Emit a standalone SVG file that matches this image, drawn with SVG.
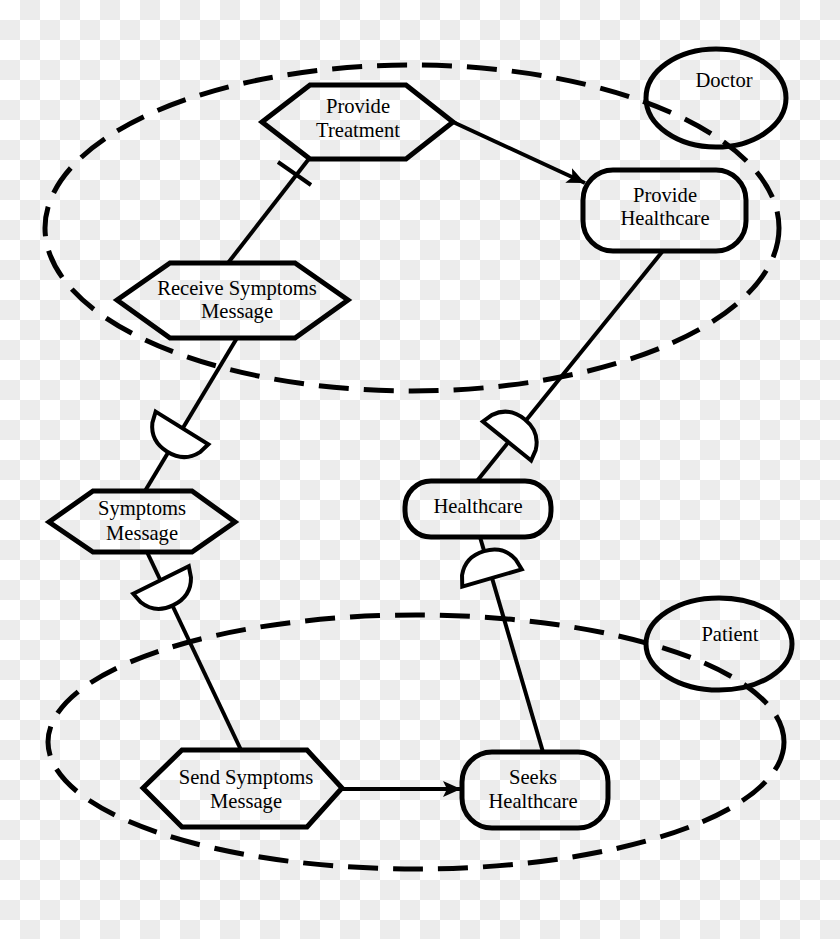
<svg xmlns="http://www.w3.org/2000/svg" width="840" height="939" viewBox="0 0 840 939">
<style>
.node{fill:none;stroke:#000;stroke-width:5;stroke-linejoin:miter}
.lbl{font-family:"Liberation Serif","Times New Roman",serif;font-size:20.6px;fill:#000;text-anchor:middle}
.edge{fill:none;stroke:#000;stroke-width:4}
.dash{fill:none;stroke:#000;stroke-width:5;stroke-dasharray:30 15}
.cup{fill:#fff;stroke:#000;stroke-width:4;stroke-linejoin:miter}
</style>
<defs>
<pattern id="checker" width="40" height="40" patternUnits="userSpaceOnUse">
<rect width="40" height="40" fill="#ffffff"/>
<rect x="20" y="0" width="20" height="20" fill="#ececec"/>
<rect x="0" y="20" width="20" height="20" fill="#ececec"/>
</pattern>
<marker id="arrow" markerUnits="userSpaceOnUse" markerWidth="22" markerHeight="18" refX="18" refY="8" orient="auto">
<path d="M0,0 L18,8 L0,16 L4,8 Z" fill="#000"/>
</marker>
<path id="cupShape" d="M-31,0 L31,0 L28,11 Q20,28 0,28 Q-20,28 -28,11 Z"/>
</defs>
<rect width="840" height="939" fill="url(#checker)"/>

<g id="swimlanes">
<ellipse id="doctor-boundary" class="dash" cx="412" cy="228" rx="367" ry="163"/>
<ellipse id="patient-boundary" class="dash" cx="416" cy="742" rx="368" ry="127"/>
</g>

<g id="connectors">
<line class="edge" x1="453" y1="122" x2="585" y2="183" marker-end="url(#arrow)"/>
<line class="edge" x1="342" y1="789" x2="461" y2="789" marker-end="url(#arrow)"/>
<line class="edge" x1="308" y1="160" x2="228" y2="263"/>
<line class="edge" x1="278" y1="162" x2="311" y2="185"/>
<line class="edge" x1="237" y1="338" x2="145" y2="491"/>
<line class="edge" x1="147" y1="552" x2="241" y2="750"/>
<line class="edge" x1="662" y1="252" x2="477" y2="481"/>
<line class="edge" x1="480" y1="537" x2="543" y2="752"/>
<use class="cup" href="#cupShape" transform="translate(182,428) rotate(31.8)"/>
<use class="cup" href="#cupShape" transform="translate(161,580) rotate(-26.3)"/>
<use class="cup" href="#cupShape" transform="translate(507,441) rotate(219)"/>
<use class="cup" href="#cupShape" transform="translate(492,578) rotate(163.7)"/>
</g>

<g id="doctor">
<ellipse class="node" cx="716" cy="98" rx="70" ry="49"/>
<text class="lbl" x="724" y="87">Doctor</text>
</g>
<g id="patient">
<ellipse class="node" cx="719" cy="644" rx="73" ry="46"/>
<text class="lbl" x="730" y="641">Patient</text>
</g>

<g id="provide-treatment">
<polygon class="node" points="262,122 310,85 406,85 453,122 406,159 310,159"/>
<text class="lbl" x="358" y="113">Provide</text>
<text class="lbl" x="358" y="137">Treatment</text>
</g>
<g id="provide-healthcare">
<rect class="node" x="583" y="170" width="163" height="81" rx="30" ry="30"/>
<text class="lbl" x="665" y="202">Provide</text>
<text class="lbl" x="665" y="225">Healthcare</text>
</g>
<g id="receive-symptoms-message">
<polygon class="node" points="117,300 170,263 295,263 348,300 295,338 170,338"/>
<text class="lbl" x="237" y="295">Receive Symptoms</text>
<text class="lbl" x="237" y="318">Message</text>
</g>
<g id="symptoms-message">
<polygon class="node" points="49,522 93,491 192,491 235,522 192,552 93,552"/>
<text class="lbl" x="142" y="515">Symptoms</text>
<text class="lbl" x="142" y="540">Message</text>
</g>
<g id="healthcare">
<rect class="node" x="405" y="481" width="146" height="56" rx="26" ry="26"/>
<text class="lbl" x="478" y="513">Healthcare</text>
</g>
<g id="send-symptoms-message">
<polygon class="node" points="143,788 182,750 307,750 342,788 307,827 182,827"/>
<text class="lbl" x="246" y="784">Send Symptoms</text>
<text class="lbl" x="246" y="808">Message</text>
</g>
<g id="seeks-healthcare">
<rect class="node" x="462" y="752" width="146" height="76" rx="30" ry="30"/>
<text class="lbl" x="533" y="784">Seeks</text>
<text class="lbl" x="533" y="808">Healthcare</text>
</g>
</svg>
